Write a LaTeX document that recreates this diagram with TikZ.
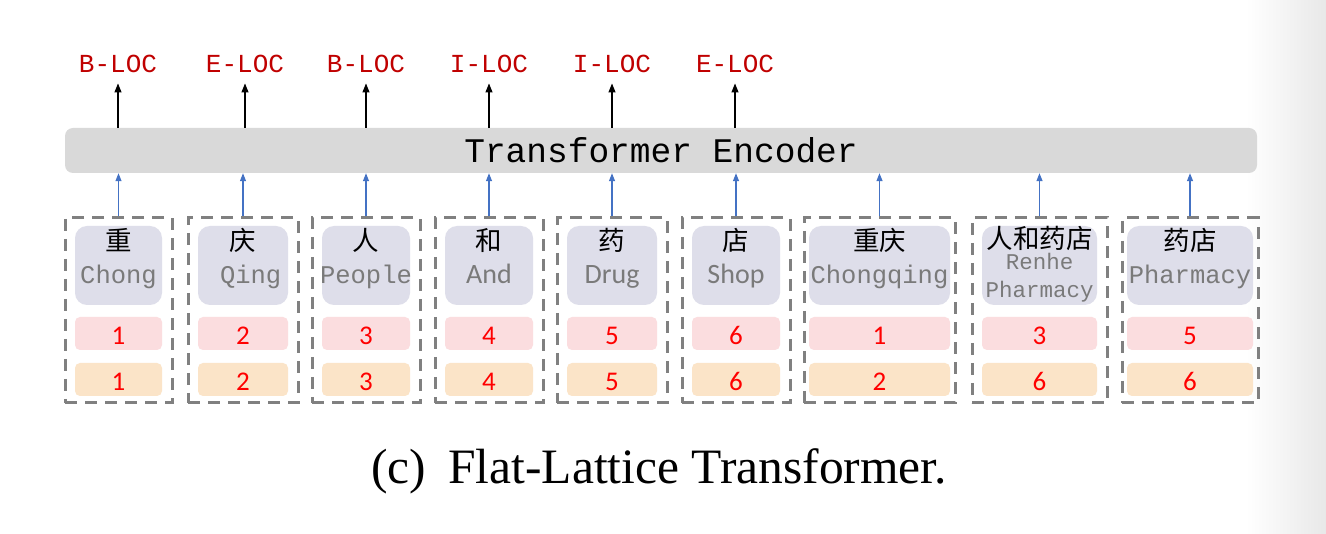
\documentclass[tikz,border=0pt]{standalone}
\usepackage{fontspec}
\setmainfont{Liberation Serif}
\newfontfamily\monof{Liberation Mono}
\newfontfamily\calib{Carlito}
\newfontfamily\cjk{Noto Sans CJK SC}
\usetikzlibrary{arrows.meta}
\definecolor{labred}{RGB}{192,0,0}
\definecolor{numred}{RGB}{255,0,0}
\definecolor{encgray}{RGB}{217,217,217}
\definecolor{lavfill}{RGB}{222,222,234}
\definecolor{pinkfill}{RGB}{251,221,223}
\definecolor{orgfill}{RGB}{251,228,200}
\definecolor{dashgray}{RGB}{128,128,128}
\definecolor{wordgray}{RGB}{122,122,122}
\definecolor{arrblue}{RGB}{68,114,196}
\tikzset{
  encbox/.style={fill=encgray, rounded corners=8pt, inner sep=0pt,
    font=\monof\fontsize{34.5}{34.5}\selectfont},
  tag/.style={inner sep=0pt, text=labred, font=\monof\fontsize{26}{26}\selectfont},
  grp/.style={draw=dashgray, line width=3pt, dash pattern=on 12pt off 8pt, inner sep=0pt},
  lav/.style={fill=lavfill, rounded corners=12pt, minimum height=79pt, inner sep=0pt},
  numbox/.style={rounded corners=5pt, minimum height=33pt, inner sep=0pt,
    text height=22pt, text depth=0pt,
    text=numred, font=\calib\fontsize{27}{27}\selectfont},
  pinkb/.style={numbox, fill=pinkfill},
  orgb/.style={numbox, fill=orgfill},
  cjkt/.style={inner sep=0pt, font=\cjk\fontsize{26.5}{26.5}\selectfont},
  engm/.style={inner sep=0pt, text=wordgray, font=\monof\fontsize{25.5}{25.5}\selectfont},
  engsm/.style={inner sep=0pt, text=wordgray, align=center, font=\monof\fontsize{22.5}{30}\selectfont},
  engs/.style={inner sep=0pt, text=wordgray, font=\calib\fontsize{28}{28}\selectfont},
  blk/.style={draw=black, line width=1.1pt, -{Triangle[length=9pt,width=7pt]}, shorten >=10pt},
  blu/.style={draw=arrblue, line width=1.2pt, -{Triangle[length=8pt,width=6pt]}},
  captext/.style={inner sep=0pt, font=\fontsize{49.5}{49.5}\selectfont}
}
\newcommand{\tokbox}[8]{%
  \node[grp, minimum width={#3-#2}, minimum height=185pt] (#1) at ({(#2+#3)/2},310.5) {};
  \node[lav, minimum width={#3-#2-2*#4}] (#1v) at ({(#2+#3)/2},265.5) {};
  \node[cjkt, anchor=base] (#1c) at ({(#2+#3)/2},#8) {#5};
  \node[pinkb, minimum width={#3-#2-2*#4}] (#1p) at ({(#2+#3)/2},333.5) {#6};
  \node[orgb, minimum width={#3-#2-2*#4}] (#1q) at ({(#2+#3)/2},379.5) {#7};
  \draw[blu] (#1.north) -- (#1.north |- enc.south);
}
\begin{document}
\begin{tikzpicture}[x=1pt,y=-1pt]
\useasboundingbox (0,0) rectangle (1326,534);
\fill[white] (0,0) rectangle (1326,534);
\shade[left color=white, right color=black!9] (1246,0) rectangle (1326,534);

\node[encbox, minimum width=1192pt, minimum height=45pt] (enc) at (661,150.5) {Transformer Encoder};

\foreach \n/\x/\t in {1/118/B-LOC, 2/245/E-LOC, 3/366/B-LOC, 4/489/I-LOC, 5/612/I-LOC, 6/735/E-LOC} {
  \node[tag, anchor=base] (L\n) at (\x,73) {\t};
  \draw[blk] (enc.north -| L\n) -- (L\n.south);
}

\tokbox{t1}{65}{172}{10}{重}{1}{1}{251}
\node[engm, anchor=base] (t1e) at (t1.center |- 0,284) {Chong};
\tokbox{t2}{188}{298}{10}{庆}{2}{2}{251}
\node[engm, anchor=base] (t2e) at (t2.center |- 0,284) {\ Qing};
\tokbox{t3}{312}{420}{10}{人}{3}{3}{251}
\node[engm, anchor=base] (t3e) at (t3.center |- 0,284) {People};
\tokbox{t4}{435}{543}{10}{和}{4}{4}{251}
\node[engs, anchor=base] (t4e) at (t4.center |- 0,284) {And};
\tokbox{t5}{557}{667}{10}{药}{5}{5}{251}
\node[engs, anchor=base] (t5e) at (t5.center |- 0,284) {Drug};
\tokbox{t6}{682}{790}{10}{店}{6}{6}{251}
\node[engs, anchor=base] (t6e) at (t6.center |- 0,284) {Shop};
\tokbox{t7}{804}{955}{5}{重庆}{1}{2}{251}
\node[engm, anchor=base] (t7e) at (t7.center |- 0,284) {Chongqing};
\tokbox{t8}{972}{1107}{10}{人和药店}{3}{6}{249}
\node[engsm, anchor=base] (t8e) at (t8.center |- 0,270) {Renhe};
\node[engsm, anchor=base] (t8f) at (t8.center |- 0,298) {Pharmacy};
\tokbox{t9}{1122}{1258}{5}{药店}{5}{6}{251}
\node[engm, anchor=base] (t9e) at (t9.center |- 0,284) {Pharmacy};

\node[captext, anchor=base] (cap) at (659,484) {(c)\hspace{0.45em}Flat-Lattice Transformer.};
\end{tikzpicture}
\end{document}
